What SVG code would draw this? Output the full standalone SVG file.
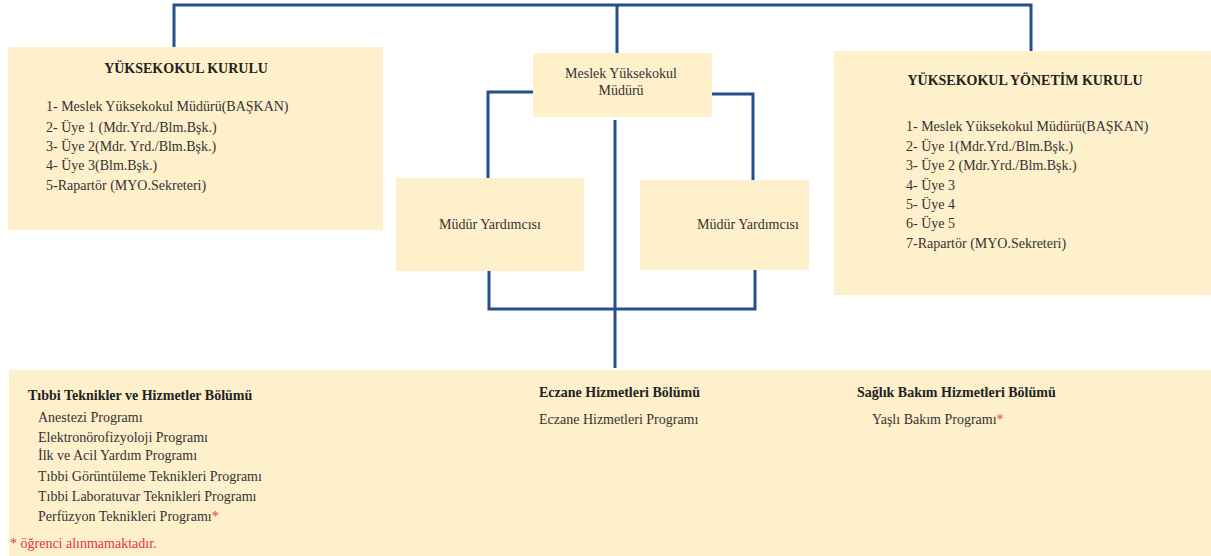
<svg xmlns="http://www.w3.org/2000/svg" width="1211" height="556" viewBox="0 0 1211 556">
<style>
.box{fill:#fef0cb}
.t{font-family:"Liberation Serif","Times New Roman",serif;font-size:14px;fill:#333}
.b{font-weight:bold;fill:#222}
.c{text-anchor:middle}
.red{fill:#e8343a}
.ln{fill:none;stroke:#234f8a;stroke-width:3;stroke-linejoin:miter}
</style>
<rect width="1211" height="556" fill="#fff"/>
<g id="connectors">
<path class="ln" d="M174,47 V5 H1031 V51"/>
<path class="ln" d="M617,5 V53"/>
<path class="ln" d="M533,92 H488 V179"/>
<path class="ln" d="M712,94 H753 V180"/>
<path class="ln" d="M489,271 V309 H755 V270"/>
<path class="ln" d="M615,120 V368"/>
</g>
<g id="yuksekokul-kurulu">
<rect class="box" x="8" y="47" width="375" height="183"/>
<text class="t b c" x="186" y="73">YÜKSEKOKUL KURULU</text>
<text class="t" x="46" y="111">1- Meslek Yüksekokul Müdürü(BAŞKAN)</text>
<text class="t" x="46" y="132">2- Üye 1 (Mdr.Yrd./Blm.Bşk.)</text>
<text class="t" x="46" y="151">3- Üye 2(Mdr. Yrd./Blm.Bşk.)</text>
<text class="t" x="46" y="170">4- Üye 3(Blm.Bşk.)</text>
<text class="t" x="46" y="190">5-Rapartör (MYO.Sekreteri)</text>
</g>
<g id="mudur">
<rect class="box" x="533" y="53" width="179" height="64"/>
<text class="t c" x="621" y="78">Meslek Yüksekokul</text>
<text class="t c" x="621" y="95">Müdürü</text>
</g>
<g id="mudur-yrd-1">
<rect class="box" x="396" y="178" width="188" height="93"/>
<text class="t c" x="490" y="229">Müdür Yardımcısı</text>
</g>
<g id="mudur-yrd-2">
<rect class="box" x="640" y="180" width="169" height="90"/>
<text class="t c" x="748" y="229">Müdür Yardımcısı</text>
</g>
<g id="yonetim-kurulu">
<rect class="box" x="834" y="51" width="377" height="244"/>
<text class="t b c" x="1025" y="85">YÜKSEKOKUL YÖNETİM KURULU</text>
<text class="t" x="906" y="131">1- Meslek Yüksekokul Müdürü(BAŞKAN)</text>
<text class="t" x="906" y="151">2- Üye 1(Mdr.Yrd./Blm.Bşk.)</text>
<text class="t" x="906" y="170">3- Üye 2 (Mdr.Yrd./Blm.Bşk.)</text>
<text class="t" x="906" y="190">4- Üye 3</text>
<text class="t" x="906" y="209">5- Üye 4</text>
<text class="t" x="906" y="228">6- Üye 5</text>
<text class="t" x="906" y="248">7-Rapartör (MYO.Sekreteri)</text>
</g>
<g id="bolumler">
<rect class="box" x="9" y="370" width="1202" height="186"/>
<text class="t b" x="28" y="400">Tıbbi Teknikler ve Hizmetler Bölümü</text>
<text class="t" x="38" y="422">Anestezi Programı</text>
<text class="t" x="38" y="442">Elektronörofizyoloji Programı</text>
<text class="t" x="38" y="460">İlk ve Acil Yardım Programı</text>
<text class="t" x="38" y="481">Tıbbi Görüntüleme Teknikleri Programı</text>
<text class="t" x="38" y="501">Tıbbi Laboratuvar Teknikleri Programı</text>
<text class="t" x="38" y="521">Perfüzyon Teknikleri Programı<tspan class="red">*</tspan></text>
<text class="t red" x="10" y="548">* öğrenci alınmamaktadır.</text>
<text class="t b" x="539" y="397">Eczane Hizmetleri Bölümü</text>
<text class="t" x="539" y="424">Eczane Hizmetleri Programı</text>
<text class="t b" x="857" y="397">Sağlık Bakım Hizmetleri Bölümü</text>
<text class="t" x="872" y="424">Yaşlı Bakım Programı<tspan class="red">*</tspan></text>
</g>
</svg>
